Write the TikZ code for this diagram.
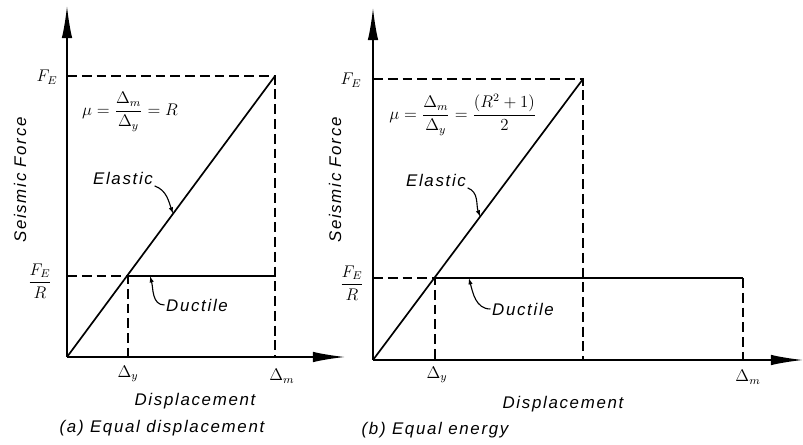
\documentclass[tikz,border=0pt]{standalone}
\usepackage{fontspec}
\setmainfont[LetterSpace=10]{Liberation Sans}
\usepackage{tikz}
\usetikzlibrary{arrows.meta,positioning}

\tikzset{
  axisline/.style={line width=1.1pt, -{Latex[length=0.8cm,width=0.26cm]}},
  curve/.style={line width=1.2pt},
  guide/.style={line width=1.1pt, dash pattern=on 7pt off 3.5pt},
  leader/.style={line width=0.8pt, -{Latex[length=1.6mm,width=1.1mm]}},
  lbl/.style={font=\fontsize{12}{14}\selectfont\itshape, inner sep=1pt},
}

\begin{document}
\begin{tikzpicture}[x=0.025cm, y=-0.025cm]
\useasboundingbox (0,0) rectangle (803,445);

% (a) equal displacement
\coordinate (O1) at (67,357);
\coordinate (Ytop1) at (67,6);
\coordinate (Xend1) at (345,357);
\coordinate (P1) at (275,76);
\coordinate (Y1) at (128,276);
\coordinate (D1) at (275,276);

\draw[axisline] (O1) -- (Ytop1);
\draw[axisline] (O1) -- (Xend1);
\draw[guide] (O1 |- P1) -- (P1) -- (P1 |- O1);
\draw[guide] (O1 |- Y1) -- (Y1) -- (Y1 |- O1);
\draw[curve] (O1) -- (P1) coordinate[pos=0.51] (e1);
\draw[curve] (Y1) -- (D1) coordinate[pos=0.15] (d1);

\node[lbl] (fe1) at (47,77) {$F_E$};
\node[lbl] (fer1) at (40,281) {$\displaystyle\frac{F_E}{R}$};
\node[lbl, rotate=90] (force1) at (20,180) {Seismic Force};
\node[lbl] (dy1) at (128,374) {$\Delta_y$};
\node[lbl] (dm1) at (282,376) {$\Delta_m$};
\node[lbl] (disp1) at (195,401) {Displacement};
\node[lbl, anchor=west] (cap1) at (58,428) {(a) Equal displacement};
\node[lbl] (mu1) at (130,112) {$\displaystyle\mu = \frac{\Delta_m}{\Delta_y} = R$};
\node[lbl] (el1) at (123,178) {Elastic};
\node[lbl] (du1) at (197,305) {Ductile};
\draw[leader] (el1.south east) to[out=-20, in=110] (e1);
\draw[leader] (du1.west) to[out=180, in=-75] (d1);

% (b) equal energy
\coordinate (O2) at (373,360);
\coordinate (Ytop2) at (373,8);
\coordinate (Xend2) at (803,360);
\coordinate (P2) at (583,79);
\coordinate (Y2) at (435,278);
\coordinate (D2) at (743,278);

\draw[axisline] (O2) -- (Ytop2);
\draw[axisline] (O2) -- (Xend2);
\draw[guide] (O2 |- P2) -- (P2) -- (P2 |- O2);
\draw[guide] (O2 |- Y2) -- (Y2) -- (Y2 |- O2);
\draw[guide] (D2) -- (D2 |- O2);
\draw[curve] (O2) -- (P2) coordinate[pos=0.51] (e2);
\draw[curve] (Y2) -- (D2) coordinate[pos=0.11] (d2);

\node[lbl] (fe2) at (351,80) {$F_E$};
\node[lbl] (fer2) at (352,283) {$\displaystyle\frac{F_E}{R}$};
\node[lbl, rotate=90] (force2) at (335,180) {Seismic Force};
\node[lbl] (dy2) at (437,375) {$\Delta_y$};
\node[lbl] (dm2) at (748,377) {$\Delta_m$};
\node[lbl] (disp2) at (563,404) {Displacement};
\node[lbl, anchor=west] (cap2) at (360,430) {(b) Equal energy};
\node[lbl] (mu2) at (463,115) {$\displaystyle\mu = \frac{\Delta_m}{\Delta_y} = \frac{(R^2+1)}{2}$};
\node[lbl] (el2) at (436,180) {Elastic};
\node[lbl] (du2) at (523,309) {Ductile};
\draw[leader] (el2.south east) to[out=-20, in=110] (e2);
\draw[leader] (du2.west) to[out=180, in=-75] (d2);
\end{tikzpicture}
\end{document}
